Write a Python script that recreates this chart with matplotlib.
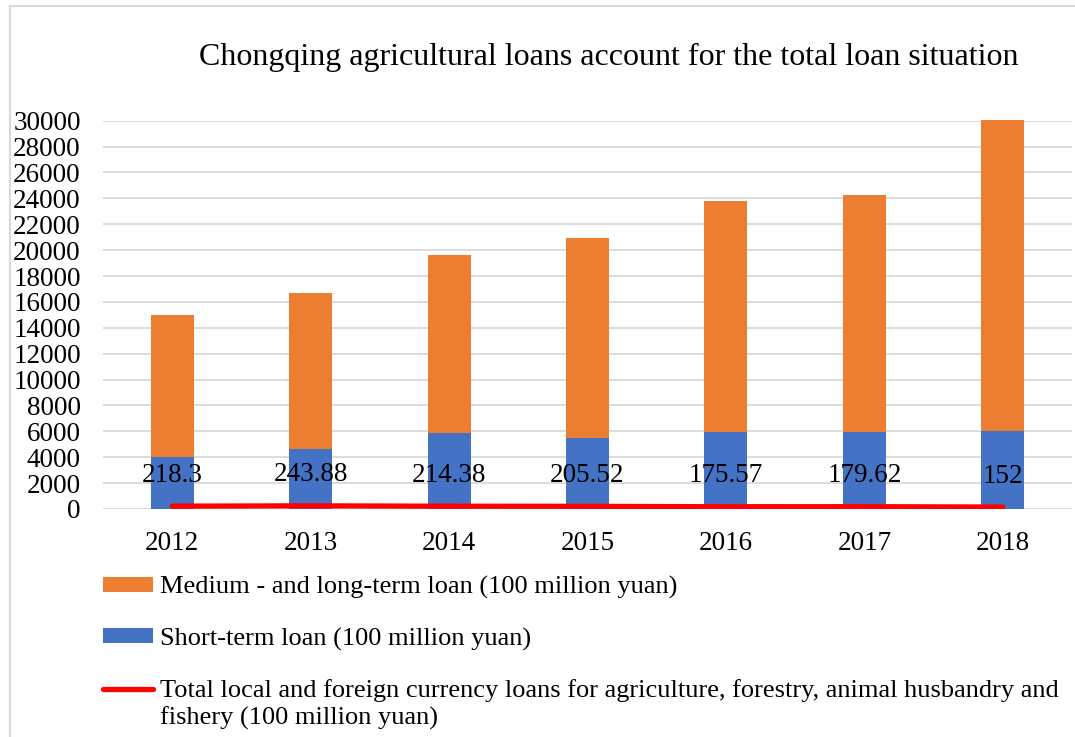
import matplotlib
matplotlib.use('Agg')
import matplotlib.pyplot as plt
from matplotlib.patches import Rectangle
import numpy as np

#%% DATA
# ----------------------
years = ['2012', '2013', '2014', '2015', '2016', '2017', '2018']
short_term = [4050, 4620, 5900, 5520, 5980, 5960, 6060]
total_height = [15000, 16720, 19640, 20950, 23760, 24280, 30050]
medium_long = [t - s for t, s in zip(total_height, short_term)]
agri_loans = [218.3, 243.88, 214.38, 205.52, 175.57, 179.62, 152]
yticks = list(range(0, 30001, 2000))
# ----------------------

plt.rcParams['font.family'] = ['Liberation Serif', 'DejaVu Serif']

fig = plt.figure(figsize=(10.75, 7.37), dpi=100)
ax = fig.add_axes([103/1075, 1 - 509/737, 969/1075, (509 - 120.7)/737])

x = np.arange(len(years))
w = 0.31
b_short = ax.bar(x, short_term, w, color='#4472c4', zorder=2)
b_long = ax.bar(x, medium_long, w, bottom=short_term, color='#ed7d31', zorder=2,
                clip_on=False)
line, = ax.plot(x, agri_loans, color='#ff0000', lw=3.8, solid_capstyle='round', zorder=3)

# data labels on the red line
for xi, v in zip(x, agri_loans):
    ax.annotate('{0:g}'.format(v), (xi, v), xytext=(0, 31), textcoords='offset pixels',
                ha='center', va='center', fontsize=19.5, zorder=4)

ax.set_xlim(-0.5, len(years) - 0.5)
ax.set_ylim(0, 30000)
ax.set_xticks(x)
ax.set_xticklabels(years)
ax.set_yticks(yticks)
ax.tick_params(axis='both', length=0, labelsize=19.5)
ax.tick_params(axis='y', pad=16)
ax.tick_params(axis='x', pad=16)
ax.grid(axis='y', color='#d9d9d9', lw=1.3, zorder=0)
for s in ax.spines.values():
    s.set_visible(False)

fig.text(609/1075, 1 - 57/737, 'Chongqing agricultural loans account for the total loan situation',
         ha='center', va='center', fontsize=23)

# legend (order as in the picture)
fig.legend([b_long, b_short, line],
           ['Medium - and long-term loan (100 million yuan)',
            'Short-term loan (100 million yuan)',
            'Total local and foreign currency loans for agriculture, forestry, animal husbandry and'],
           loc='upper left', bbox_to_anchor=(103/1075, 1 - 576/737), frameon=False, fontsize=19,
           handlelength=1.9, handleheight=0.5, handletextpad=0.25,
           labelspacing=1.08, borderpad=0, borderaxespad=0)
fig.text(160/1075, 1 - 718/737, 'fishery (100 million yuan)', ha='left', va='center', fontsize=19)

# chart border
fig.patches.append(Rectangle((10/1075, -0.05), 1.1, 1 - 6/737 + 0.05, transform=fig.transFigure,
                             fill=False, edgecolor='#d9d9d9', lw=1.5))

fig.savefig('out.png', dpi=100)
